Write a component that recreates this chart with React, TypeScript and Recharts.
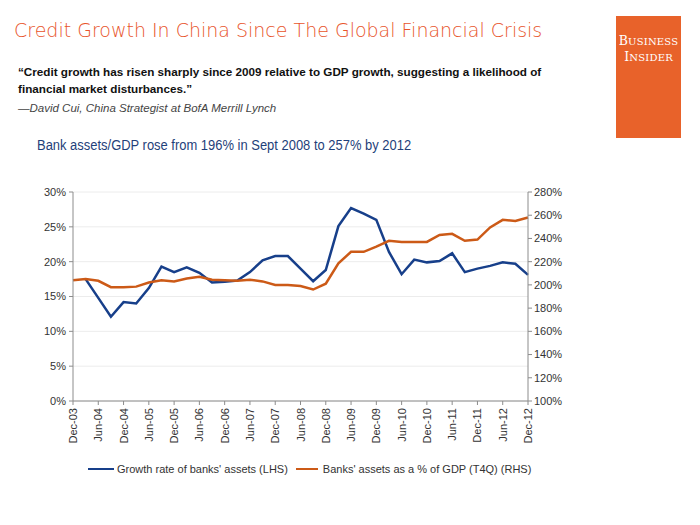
import React from 'react';
import { CartesianGrid, Line, LineChart, XAxis, YAxis } from 'recharts';

// quarterly, Dec-03 .. Dec-12
const quarters = [
  'Dec-03', 'Mar-04', 'Jun-04', 'Sep-04', 'Dec-04', 'Mar-05', 'Jun-05', 'Sep-05',
  'Dec-05', 'Mar-06', 'Jun-06', 'Sep-06', 'Dec-06', 'Mar-07', 'Jun-07', 'Sep-07',
  'Dec-07', 'Mar-08', 'Jun-08', 'Sep-08', 'Dec-08', 'Mar-09', 'Jun-09', 'Sep-09',
  'Dec-09', 'Mar-10', 'Jun-10', 'Sep-10', 'Dec-10', 'Mar-11', 'Jun-11', 'Sep-11',
  'Dec-11', 'Mar-12', 'Jun-12', 'Sep-12', 'Dec-12',
];

// growth rate of banks' assets, % (LHS)
const assetGrowth = [
  null, 17.5, 14.8, 12.1, 14.2, 14.0, 16.2, 19.3,
  18.5, 19.2, 18.4, 17.0, 17.1, 17.3, 18.5, 20.2,
  20.8, 20.8, 19.0, 17.2, 18.8, 25.1, 27.7, 26.9,
  26.0, 21.4, 18.2, 20.3, 19.9, 20.1, 21.2, 18.5,
  19.0, 19.4, 19.9, 19.7, 18.1,
];

// banks' assets as % of GDP, T4Q (RHS)
const assetsToGdp = [
  204, 205, 203.5, 198, 198, 198.5, 202, 204,
  203, 205.5, 207, 204.5, 204, 203.5, 204.5, 203,
  200, 200, 199, 196, 201, 218.5, 228.5, 228.5,
  233, 238, 237, 237, 237, 243, 244, 238,
  239, 249.5, 256, 255, 258,
];

const lhsTicks = [0, 5, 10, 15, 20, 25, 30];
const rhsTicks = [100, 120, 140, 160, 180, 200, 220, 240, 260, 280];

const data = quarters.map((q, i) => ({
  q,
  growth: assetGrowth[i],
  gdp: assetsToGdp[i],
}));

const BLUE = '#173f8a';
const ORANGE = '#cc5a17';
const AXIS = '#8c8c8c';
const LABEL = '#333';
const ARIAL = "'Liberation Sans', Arial, sans-serif";

function RotatedTick(props: any) {
  const { x, y, payload } = props;
  return (
    <text
      x={x}
      y={y}
      transform={`rotate(-90 ${x} ${y})`}
      textAnchor="end"
      dominantBaseline="central"
      fontSize={11}
      fontFamily={ARIAL}
      fill={LABEL}
    >
      {payload.value}
    </text>
  );
}

export default function App() {
  return (
    <div
      style={{
        position: 'absolute',
        left: 0,
        top: 0,
        width: 700,
        height: 525,
        background: '#fff',
        overflow: 'hidden',
        fontFamily: ARIAL,
      }}
    >
      <div
        style={{
          position: 'absolute',
          left: 14,
          top: 19,
          fontFamily: "'DejaVu Sans', sans-serif",
          fontWeight: 200,
          fontSize: 19,
          color: '#e8542b',
          whiteSpace: 'nowrap',
        }}
      >
        Credit Growth In China Since The Global Financial Crisis
      </div>

      <div
        style={{
          position: 'absolute',
          left: 616,
          top: 16,
          width: 65,
          height: 122,
          background: '#e8622a',
          color: '#fff',
          fontFamily: "'DejaVu Serif', 'Liberation Serif', serif",
          fontSize: 12.5,
          lineHeight: '15px',
          textAlign: 'center',
          paddingTop: 17,
          boxSizing: 'border-box',
          letterSpacing: 0.2,
        }}
      >
        B<span style={{ fontSize: 10 }}>USINESS</span>
        <br />
        I<span style={{ fontSize: 10 }}>NSIDER</span>
      </div>

      <div
        style={{
          position: 'absolute',
          left: 18,
          top: 63,
          fontWeight: 700,
          fontSize: 11.7,
          lineHeight: '17px',
          color: '#111',
          whiteSpace: 'nowrap',
        }}
      >
        “Credit growth has risen sharply since 2009 relative to GDP growth, suggesting a likelihood of
        <br />
        financial market disturbances.”
      </div>

      <div
        style={{
          position: 'absolute',
          left: 18,
          top: 102,
          fontStyle: 'italic',
          fontSize: 11.5,
          color: '#444',
          whiteSpace: 'nowrap',
        }}
      >
        —David Cui, China Strategist at BofA Merrill Lynch
      </div>

      <div
        style={{
          position: 'absolute',
          left: 37,
          top: 137,
          fontSize: 14,
          color: '#1f3f7a',
          whiteSpace: 'nowrap',
          transform: 'scaleX(0.925)',
          transformOrigin: 'left center',
        }}
      >
        Bank assets/GDP rose from 196% in Sept 2008 to 257% by 2012
      </div>

      <div style={{ position: 'absolute', left: 0, top: 180 }}>
        <LineChart
          width={600}
          height={300}
          data={data}
          margin={{ top: 12, right: 12, bottom: 34, left: 0 }}
        >
          <CartesianGrid
            horizontal
            vertical={false}
            yAxisId="lhs"
            stroke="#ececec"
            horizontalValues={lhsTicks}
          />
          <XAxis
            dataKey="q"
            interval={1}
            height={45}
            tick={<RotatedTick />}
            tickSize={4}
            tickMargin={3}
            stroke={AXIS}
            tickLine={{ stroke: AXIS }}
          />
          <YAxis
            yAxisId="lhs"
            domain={[0, 30]}
            ticks={lhsTicks}
            tickFormatter={(v) => `${v}%`}
            width={73}
            tickSize={4}
            tickMargin={3}
            stroke={AXIS}
            tick={{ fill: LABEL, fontSize: 11, fontFamily: ARIAL }}
          />
          <YAxis
            yAxisId="rhs"
            orientation="right"
            domain={[100, 280]}
            ticks={rhsTicks}
            tickFormatter={(v) => `${v}%`}
            width={60}
            tickSize={4}
            tickMargin={2}
            stroke={AXIS}
            tick={{ fill: LABEL, fontSize: 11, fontFamily: ARIAL, textAnchor: 'start' }}
          />
          <Line
            yAxisId="lhs"
            dataKey="growth"
            stroke={BLUE}
            strokeWidth={2.5}
            dot={false}
            connectNulls={false}
            isAnimationActive={false}
          />
          <Line
            yAxisId="rhs"
            dataKey="gdp"
            stroke={ORANGE}
            strokeWidth={2.5}
            dot={false}
            isAnimationActive={false}
          />
        </LineChart>
      </div>

      <div
        style={{
          position: 'absolute',
          left: 88,
          top: 463,
          fontSize: 11,
          color: LABEL,
          display: 'flex',
          alignItems: 'center',
          whiteSpace: 'nowrap',
        }}
      >
        <span style={{ display: 'inline-block', width: 26, height: 2, background: BLUE, marginRight: 3 }} />
        <span>Growth rate of banks' assets (LHS)</span>
        <span
          style={{ display: 'inline-block', width: 22, height: 2, background: ORANGE, marginLeft: 8, marginRight: 5 }}
        />
        <span>Banks' assets as a % of GDP (T4Q) (RHS)</span>
      </div>
    </div>
  );
}
